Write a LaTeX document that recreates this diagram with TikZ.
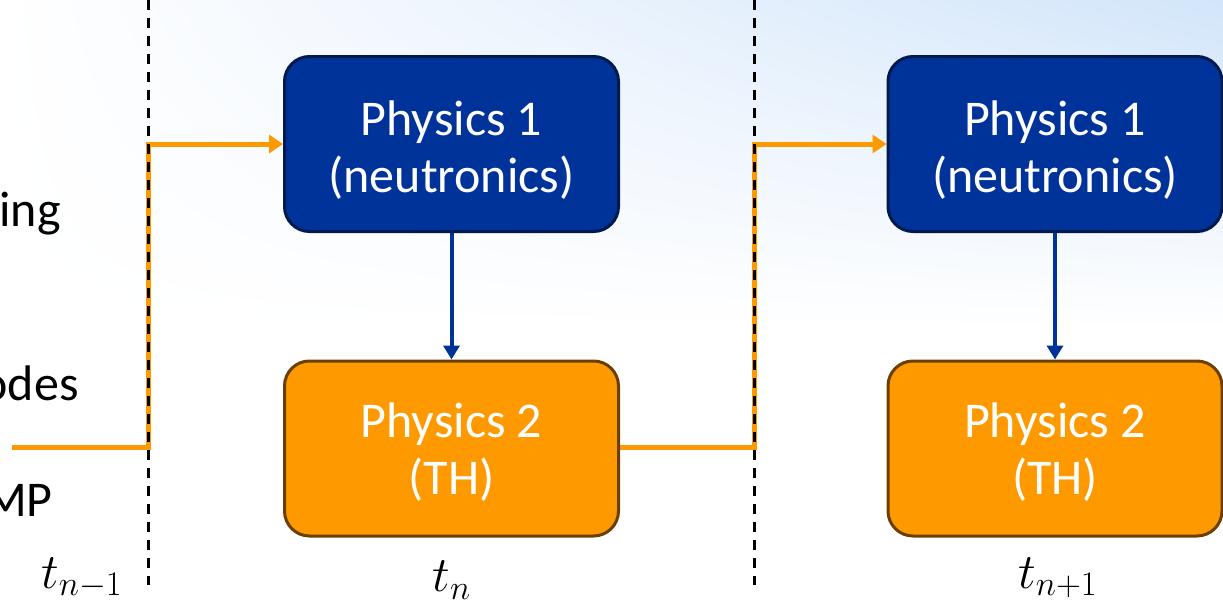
\documentclass[tikz,border=0pt]{standalone}
\usepackage{fontspec}
\setmainfont{Carlito}
\usepackage{tikz}
\usetikzlibrary{arrows.meta,shadings}
\definecolor{phyblue}{HTML}{003399}
\definecolor{phyblueline}{HTML}{001A4D}
\definecolor{phyorange}{HTML}{FF9900}
\definecolor{phyorangeline}{HTML}{6B3F00}
\definecolor{skyblue}{HTML}{D2E5FA}
\pgfdeclarelayer{edgelayer}
\pgfdeclarelayer{nodelayer}
\pgfsetlayers{edgelayer,main,nodelayer}
\tikzstyle{box}=[rounded corners=12.5pt, line width=1.5pt, minimum width=167pt, minimum height=87.5pt, align=center, text=white, font=\fontsize{25}{28.5}\selectfont]
\tikzstyle{box1}=[box, fill=phyblue, draw=phyblueline]
\tikzstyle{box2}=[box, fill=phyorange, draw=phyorangeline]
\tikzstyle{cut}=[font=\fontsize{25}{28}\selectfont, anchor=east, inner sep=0pt]
\tikzstyle{time}=[font=\fontsize{25}{28}\selectfont, inner sep=0pt]
\tikzstyle{step line}=[draw=black, line width=1.5pt, dash pattern=on 5pt off 4pt]
\tikzstyle{pass}=[draw=phyorange, line width=2.5pt, -{Triangle[length=7pt,width=9pt]}]
\tikzstyle{feed}=[draw=phyblue, line width=2pt, -{Triangle[length=7pt,width=8pt]}]

\begin{document}
\begin{tikzpicture}[x=0.5pt, y=-0.5pt]
				\useasboundingbox (0,0) rectangle (1223,605);
				\shade[upper right=skyblue, upper left=white, lower left=white, lower right=white] (0,0) rectangle (1223,330);
				\begin{pgfonlayer}{nodelayer}
					\node [style=box1] (p1a) at (451.5, 144) {};
					\node [style=box2] (p2a) at (451.5, 448.5) {};
					\node [style=box1] (p1b) at (1055, 144) {};
					\node [style=box2] (p2b) at (1055, 448.5) {};
					\node [text=white, font=\fontsize{25}{28.5}\selectfont, align=center] (l1a) at (451.5, 150) {Physics 1\\(neutronics)};
					\node [text=white, font=\fontsize{25}{28.5}\selectfont, align=center] (l2a) at (451.5, 452) {Physics 2\\(TH)};
					\node [text=white, font=\fontsize{25}{28.5}\selectfont, align=center] (l1b) at (1055, 150) {Physics 1\\(neutronics)};
					\node [text=white, font=\fontsize{25}{28.5}\selectfont, align=center] (l2b) at (1055, 452) {Physics 2\\(TH)};
					\node [style=cut] (w1) at (61, 214) {ing};
					\node [style=cut] (w2) at (79, 383) {odes};
					\node [style=cut] (w3) at (53, 500) {MP};
					\node [style=time] (t0) at (82, 578) {$t_{n-1}$};
					\node [style=time] (t1) at (452, 580) {$t_{n}$};
					\node [style=time] (t2) at (1058, 578) {$t_{n+1}$};
				\end{pgfonlayer}
				\coordinate (s0) at (12, 447);
				\coordinate (c0) at (148, 447);
				\coordinate (c1) at (754, 447);
				\coordinate (d0a) at (148, 0);
				\coordinate (d0b) at (148, 585);
				\coordinate (d1a) at (754, 0);
				\coordinate (d1b) at (754, 585);
				\draw [style=pass] (s0) -- (c0) |- (p1a.west);
				\draw [style=pass] (p2a.east |- c1) -- (c1) |- (p1b.west);
				\draw [style=feed] (p1a.south) to (p2a.north);
				\draw [style=feed] (p1b.south) to (p2b.north);
				\draw [style=step line] (d0a) to (d0b);
				\draw [style=step line] (d1a) to (d1b);
			\end{tikzpicture}
\end{document}
